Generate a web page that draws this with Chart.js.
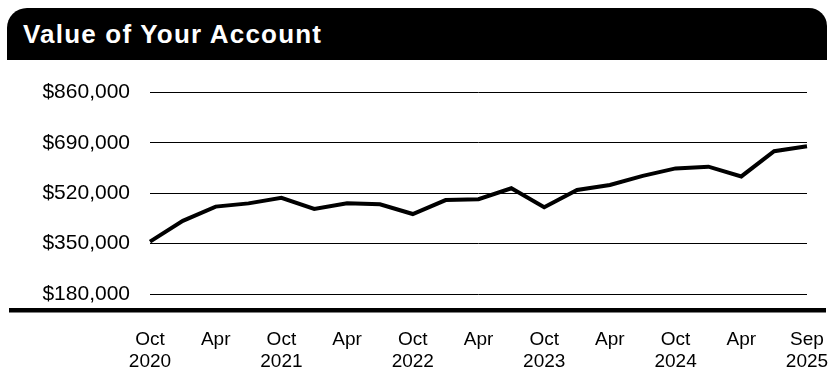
<!DOCTYPE html>
<html>
<head>
<meta charset="utf-8">
<script src="https://cdn.jsdelivr.net/npm/chart.js@4"></script>
<style>
  body { margin: 0; background: #fff; font-family: "Liberation Sans", Arial, sans-serif; }
  .header {
    position: absolute; left: 7px; top: 8px; width: 820px; height: 52px;
    background: #000; border-radius: 20px 18px 0 0;
  }
  .header h1 {
    margin: 0; position: absolute; left: 16px; top: 11px;
    color: #fff; font-size: 26px; font-weight: bold; line-height: 30px;
    letter-spacing: 1.2px;
  }
  .wrap { position: absolute; left: 0; top: 60px; width: 838px; height: 321px; }
</style>
</head>
<body>
<div class="header"><h1>Value of Your Account</h1></div>
<div class="wrap"><canvas id="chart"></canvas></div>
<script>
// quarterly values, last point is Sep 2025
const periods = [
    "Oct 2020", "Jan 2021", "Apr 2021", "Jul 2021",
    "Oct 2021", "Jan 2022", "Apr 2022", "Jul 2022",
    "Oct 2022", "Jan 2023", "Apr 2023", "Jul 2023",
    "Oct 2023", "Jan 2024", "Apr 2024", "Jul 2024",
    "Oct 2024", "Jan 2025", "Apr 2025", "Jul 2025",
    "Sep 2025",
];

const accountValue = [
    357000, 427000, 475000, 486000,
    505000, 467000, 486000, 483000,
    450000, 497000, 500000, 537000,
    473000, 531000, 548000, 579000,
    604000, 610000, 577000, 662000,
    679000,
];

const tickLabels = [
    ["Oct", "2020"], "", ["Apr"], "",
    ["Oct", "2021"], "", ["Apr"], "",
    ["Oct", "2022"], "", ["Apr"], "",
    ["Oct", "2023"], "", ["Apr"], "",
    ["Oct", "2024"], "", ["Apr"], "",
    ["Sep", "2025"],
];

const yTicks = [180000, 350000, 520000, 690000, 860000];

// thick rule under the plot, wider than the plot area
const baseline = {
    id: "baseline",
    afterDraw(chart) {
        const ctx = chart.ctx;
        const bottom = chart.chartArea.bottom;
        ctx.save();
        ctx.fillStyle = "#000";
        ctx.fillRect(9, bottom + 14, 817, 4.5);
        ctx.restore();
    }
};

const fontFamily = '"Liberation Sans", Arial, sans-serif';

new Chart(document.getElementById("chart"), {
    type: "line",
    data: {
        labels: periods,
        datasets: [{
            data: accountValue,
            borderColor: "#000",
            borderWidth: 4,
            pointRadius: 0,
            tension: 0,
            borderJoinStyle: "miter",
        }]
    },
    options: {
        responsive: true,
        maintainAspectRatio: false,
        animation: false,
        layout: { padding: { top: 32, right: 31, left: 0, bottom: 0 } },
        plugins: { legend: { display: false }, tooltip: { enabled: false } },
        scales: {
            x: {
                offset: false,
                grid: { display: false, drawTicks: false },
                border: { display: false },
                ticks: {
                    autoSkip: false,
                    maxRotation: 0,
                    padding: 34,
                    color: "#000",
                    font: { family: fontFamily, size: 19 },
                    callback: (v, i) => tickLabels[i],
                },
                afterFit(scale) {
                    scale.height = 87;
                    scale.paddingLeft = 0;
                    scale.paddingRight = 0;
                },
            },
            y: {
                min: yTicks[0],
                max: yTicks[yTicks.length - 1],
                grid: { color: "#000", lineWidth: 1, drawTicks: false },
                border: { display: false },
                afterBuildTicks(scale) { scale.ticks = yTicks.map(v => ({ value: v })); },
                ticks: {
                    padding: 20,
                    color: "#000",
                    font: { family: fontFamily, size: 21 },
                    callback: v => "$" + v.toLocaleString("en-US"),
                },
                afterFit(scale) { scale.width = 150; },
            }
        }
    },
    plugins: [baseline]
});
</script>
</body>
</html>
